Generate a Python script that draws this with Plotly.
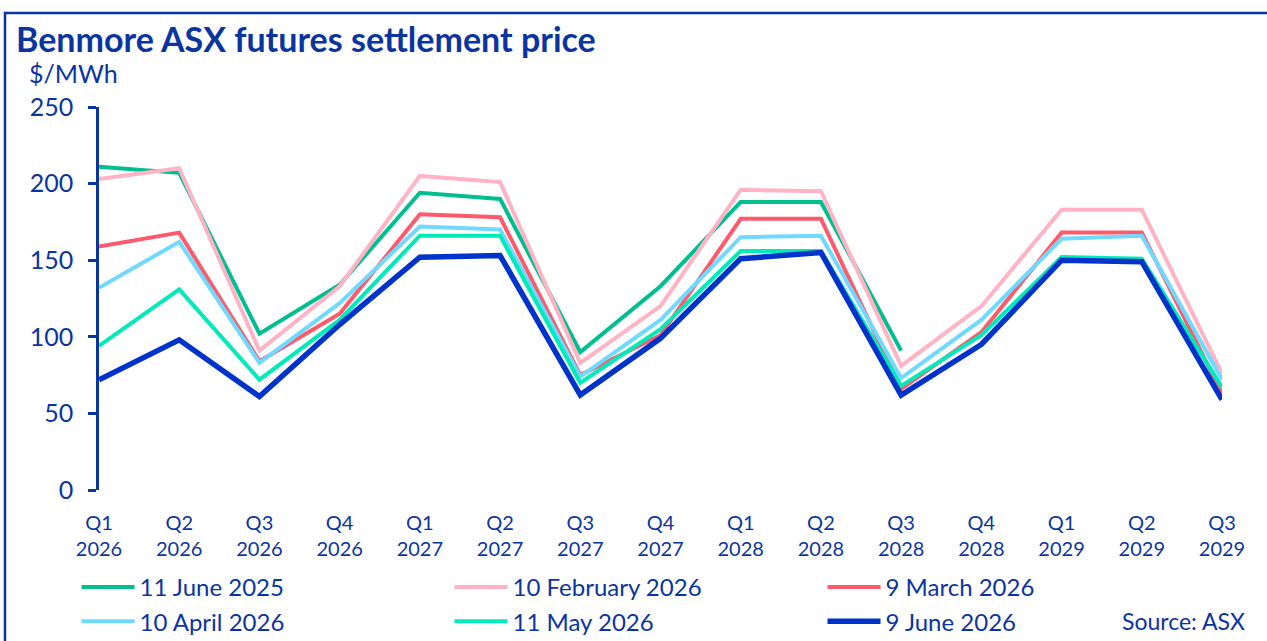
import plotly.graph_objects as go

quarters = ["Q1<br>2026", "Q2<br>2026", "Q3<br>2026", "Q4<br>2026",
            "Q1<br>2027", "Q2<br>2027", "Q3<br>2027", "Q4<br>2027",
            "Q1<br>2028", "Q2<br>2028", "Q3<br>2028", "Q4<br>2028",
            "Q1<br>2029", "Q2<br>2029", "Q3<br>2029"]

jun_2025 = [211, 207, 102, 134, 194, 190, 90, 133, 188, 188, 91, None, None, None, None]
feb_2026 = [203, 210, 91, 133, 205, 201, 83, 120, 196, 195, 81, 120, 183, 183, 76]
mar_2026 = [159, 168, 84, 115, 180, 178, 75, 101, 177, 177, 66, 103, 168, 168, 63]
apr_2026 = [132, 162, 83, 122, 172, 170, 74, 111, 165, 166, 73, 111, 164, 166, 72]
may_2026 = [94, 131, 72, 111, 166, 166, 70, 105, 156, 156, 68, 101, 152, 151, 67]
jun_2026 = [72, 98, 61, 108, 152, 153, 62, 99, 151, 155, 62, 95, 150, 149, 59]

series_names = ["11 June 2025", "10 February 2026", "9 March 2026",
                "10 April 2026", "11 May 2026", "9 June 2026"]
series_values = [jun_2025, feb_2026, mar_2026, apr_2026, may_2026, jun_2026]
series_colors = ["#00BF8F", "#FFB3C4", "#FF5A6C", "#70D9FF", "#00EBB9", "#0032CC"]
series_widths = [4, 4, 4, 4, 4, 5.5]

NAVY = "#0A35A0"
FONT = "Lato"
W, H = 1267, 641
PW, PH = 1123, 383  # plot width / height in px

fig = go.Figure()
x_idx = list(range(len(quarters)))
for name, vals, col, w in zip(series_names, series_values, series_colors, series_widths):
    fig.add_trace(go.Scatter(x=x_idx, y=vals, mode="lines", name=name,
                             line=dict(color=col, width=w), connectgaps=False))

fig.update_layout(
    width=W, height=H,
    paper_bgcolor="white", plot_bgcolor="white",
    margin=dict(l=99, r=W - 1222, t=107, b=H - 490, autoexpand=False),
    font=dict(family=FONT, color=NAVY, size=23),
    showlegend=True,
    legend=dict(orientation="h", x=-0.02, xanchor="left", y=-(565 - 490) / PH, yanchor="top",
                entrywidth=305, entrywidthmode="pixels", itemwidth=53,
                font=dict(size=24, color=NAVY, family=FONT),
                bgcolor="rgba(0,0,0,0)", tracegroupgap=0, traceorder="normal"),
    xaxis=dict(range=[0, 14], tickmode="array", tickvals=x_idx, ticktext=quarters,
               showgrid=False, zeroline=False, showline=False, ticks="",
               tickfont=dict(size=20, color=NAVY, family=FONT), ticklabelstandoff=19),
    yaxis=dict(range=[0, 250], tickvals=[0, 50, 100, 150, 200, 250],
               showgrid=False, zeroline=False, showline=True, linecolor=NAVY, linewidth=2.5,
               ticks="outside", ticklen=8, tickwidth=2.5, tickcolor=NAVY,
               tickfont=dict(size=25, color=NAVY, family=FONT), ticklabelstandoff=10),
    yaxis2=dict(range=[0, 250], overlaying="y", side="left", anchor="x",
                tickvals=[0, 50, 100, 150, 200, 250], showticklabels=False,
                showgrid=False, zeroline=False, showline=False,
                ticks="inside", ticklen=8, tickwidth=2.5, tickcolor=NAVY),
    title=dict(text="<b>Benmore ASX futures settlement price</b>",
               x=16 / W, xanchor="left", xref="container",
               y=1 - 40 / H, yanchor="middle", yref="container",
               font=dict(size=34, color=NAVY, family=FONT)),
)

fig.add_annotation(text="$/MWh", xref="paper", yref="paper", x=(27 - 99) / PW, y=(490 - 73) / PH,
                   xanchor="left", yanchor="middle", showarrow=False,
                   font=dict(size=25, color=NAVY, family=FONT))
fig.add_annotation(text="Source: ASX", xref="paper", yref="paper", x=(1247 - 99) / PW,
                   y=-(621 - 490) / PH, xanchor="right", yanchor="middle", showarrow=False,
                   font=dict(size=23, color=NAVY, family=FONT))

# frame around the chart
fig.add_shape(type="rect", xref="paper", yref="paper",
              x0=(5 - 99) / PW, x1=1.2, y0=-0.5, y1=(490 - 13) / PH,
              line=dict(color=NAVY, width=2.5), fillcolor="rgba(0,0,0,0)", layer="below")

fig.write_html("out.html", config={"displayModeBar": False},
               post_script="document.body.style.margin='0';document.body.style.overflow='hidden';")
